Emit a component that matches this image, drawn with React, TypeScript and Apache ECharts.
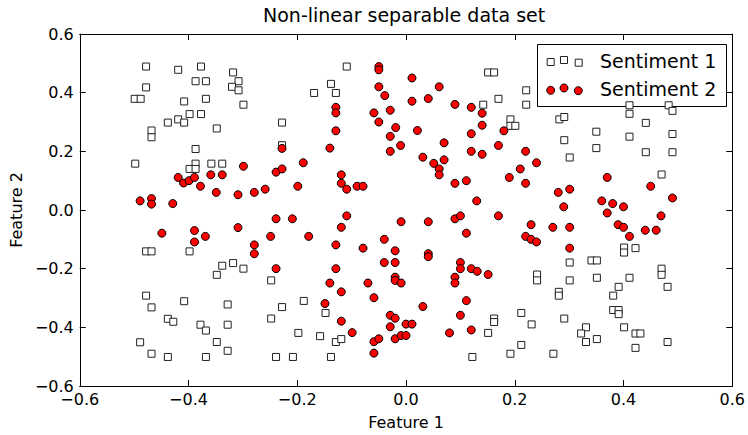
import React, { useEffect, useRef } from "react";
import * as echarts from "echarts";

const TITLE = "Non-linear separable data set";
const X_NAME = "Feature 1";
const Y_NAME = "Feature 2";
const SERIES_NAMES = ["Sentiment 1", "Sentiment 2"];
const AXIS_MIN = -0.6;
const AXIS_MAX = 0.6;
const AXIS_STEP = 0.2;

const sentiment1: number[][] = [
  [-0.478, 0.489], [-0.419, 0.478], [-0.377, 0.489], [-0.318, 0.469], [-0.308, 0.439], [-0.32, 0.42],
  [-0.308, 0.408], [-0.387, 0.439], [-0.368, 0.439], [-0.478, 0.418], [-0.499, 0.379], [-0.488, 0.379],
  [-0.408, 0.37], [-0.368, 0.379], [-0.299, 0.359], [-0.398, 0.327], [-0.377, 0.327], [-0.438, 0.298],
  [-0.419, 0.309], [-0.408, 0.298], [-0.468, 0.271], [-0.468, 0.248], [-0.348, 0.278], [-0.387, 0.208],
  [-0.498, 0.158], [-0.387, 0.158], [-0.398, 0.14], [-0.387, 0.14], [-0.358, 0.158], [-0.338, 0.158],
  [-0.478, -0.141], [-0.468, -0.141], [-0.398, -0.141], [-0.348, -0.221], [-0.338, -0.19], [-0.318, -0.181],
  [-0.299, -0.2], [-0.478, -0.292], [-0.468, -0.332], [-0.408, -0.311], [-0.328, -0.322], [-0.438, -0.371],
  [-0.428, -0.381], [-0.378, -0.391], [-0.368, -0.411], [-0.328, -0.391], [-0.489, -0.451], [-0.348, -0.45],
  [-0.328, -0.48], [-0.468, -0.49], [-0.438, -0.501], [-0.368, -0.501],
  [-0.109, 0.489], [-0.138, 0.43], [-0.169, 0.399], [-0.129, 0.399], [-0.228, 0.298], [-0.228, 0.221],
  [-0.248, -0.24], [-0.228, -0.331], [-0.248, -0.37], [-0.188, -0.31], [-0.148, -0.351], [-0.198, -0.419],
  [-0.158, -0.43], [-0.129, -0.45], [-0.119, -0.44], [-0.239, -0.501], [-0.208, -0.501], [-0.138, -0.501],
  [0.151, 0.469], [0.162, 0.469], [0.221, 0.408], [0.221, 0.359], [0.17, 0.379], [0.142, 0.359],
  [0.192, 0.309], [0.192, 0.287], [0.201, 0.287], [0.282, 0.309], [0.291, 0.317], [0.291, 0.238], [0.301, 0.179],
  [0.301, -0.179], [0.241, -0.22], [0.241, -0.24], [0.301, -0.24], [0.281, -0.279], [0.281, -0.292],
  [0.162, -0.37], [0.162, -0.382], [0.212, -0.351], [0.231, -0.39], [0.291, -0.37], [0.151, -0.419],
  [0.212, -0.46], [0.192, -0.49], [0.271, -0.49], [0.122, -0.501],
  [0.411, 0.357], [0.411, 0.328], [0.483, 0.357], [0.49, 0.338], [0.441, 0.297], [0.35, 0.267],
  [0.411, 0.25], [0.49, 0.259], [0.35, 0.211], [0.441, 0.197], [0.49, 0.197], [0.47, 0.121],
  [0.401, -0.128], [0.401, -0.145], [0.422, -0.13], [0.341, -0.172], [0.351, -0.172], [0.351, -0.231],
  [0.411, -0.231], [0.47, -0.2], [0.47, -0.221], [0.481, -0.262], [0.391, -0.262], [0.381, -0.292],
  [0.381, -0.341], [0.391, -0.341], [0.391, -0.355], [0.331, -0.4], [0.322, -0.421], [0.331, -0.45],
  [0.351, -0.44], [0.401, -0.4], [0.422, -0.421], [0.431, -0.421], [0.422, -0.47], [0.481, -0.45],
];

const sentiment2: number[][] = [
  [-0.299, 0.149], [-0.419, 0.111], [-0.409, 0.092], [-0.399, 0.1], [-0.389, 0.111], [-0.378, 0.081],
  [-0.359, 0.12], [-0.338, 0.12], [-0.349, 0.06], [-0.309, 0.052], [-0.489, 0.031], [-0.468, 0.039],
  [-0.468, 0.02], [-0.429, 0.022],
  [-0.449, -0.079], [-0.389, -0.07], [-0.369, -0.09], [-0.389, -0.109], [-0.309, -0.06],
  [-0.05, 0.489], [-0.05, 0.478], [-0.05, 0.42], [-0.039, 0.39], [-0.129, 0.35], [-0.129, 0.331],
  [-0.059, 0.331], [-0.029, 0.34], [-0.05, 0.3], [-0.019, 0.281], [-0.129, 0.27], [-0.029, 0.251],
  [-0.01, 0.22], [-0.029, 0.2], [-0.14, 0.211], [-0.228, 0.21], [-0.189, 0.161], [-0.239, 0.129],
  [-0.228, 0.14], [-0.119, 0.12], [-0.119, 0.091], [-0.109, 0.071], [-0.09, 0.081], [-0.079, 0.081],
  [-0.199, 0.081], [-0.259, 0.071], [-0.279, 0.06],
  [-0.239, -0.03], [-0.209, -0.03], [-0.109, -0.02], [-0.119, -0.059], [-0.009, -0.04], [-0.249, -0.09],
  [-0.179, -0.09], [-0.279, -0.119], [-0.279, -0.149], [-0.129, -0.119], [-0.079, -0.13], [-0.04, -0.1],
  [-0.02, -0.139], [-0.04, -0.179], [-0.02, -0.179], [-0.239, -0.2], [-0.129, -0.2], [-0.14, -0.249],
  [-0.119, -0.279], [-0.07, -0.249], [-0.02, -0.229], [-0.02, -0.24], [-0.009, -0.249], [-0.059, -0.299],
  [-0.149, -0.319], [-0.119, -0.379], [-0.099, -0.418], [-0.029, -0.359], [-0.02, -0.369], [-0.029, -0.398],
  [0.0, -0.389], [-0.059, -0.449], [-0.05, -0.439], [-0.059, -0.488], [-0.02, -0.439], [-0.009, -0.428],
  [0.0, -0.428],
  [0.011, 0.45], [0.011, 0.371], [0.061, 0.42], [0.041, 0.38], [0.09, 0.36], [0.12, 0.35], [0.14, 0.33],
  [0.14, 0.289], [0.021, 0.271], [0.12, 0.26], [0.18, 0.27], [0.07, 0.229], [0.17, 0.22], [0.031, 0.18],
  [0.051, 0.159], [0.07, 0.171], [0.061, 0.14], [0.061, 0.12], [0.12, 0.2], [0.14, 0.19], [0.22, 0.2],
  [0.21, 0.14], [0.24, 0.161], [0.19, 0.111], [0.22, 0.091], [0.09, 0.091], [0.111, 0.1], [0.13, 0.031],
  [0.28, 0.06], [0.301, 0.071], [0.29, 0.011],
  [0.041, -0.04], [0.09, -0.03], [0.1, -0.02], [0.17, -0.02], [0.111, -0.079], [0.23, -0.05],
  [0.27, -0.059], [0.301, -0.059], [0.22, -0.09], [0.23, -0.1], [0.24, -0.109], [0.301, -0.13],
  [0.041, -0.149], [0.041, -0.159], [0.1, -0.179], [0.1, -0.2], [0.12, -0.2], [0.131, -0.209],
  [0.151, -0.22], [0.09, -0.229], [0.09, -0.249], [0.111, -0.309], [0.031, -0.329], [0.1, -0.359],
  [0.011, -0.389], [0.08, -0.419], [0.12, -0.409],
  [0.37, 0.111], [0.45, 0.081], [0.49, 0.041], [0.36, 0.031], [0.38, 0.022], [0.4, 0.011],
  [0.37, -0.01], [0.469, -0.02], [0.39, -0.05], [0.4, -0.059], [0.411, -0.09], [0.44, -0.069], [0.46, -0.069],
];

const FONT = "DejaVu Sans";

function fmt(v: number): string {
  if (Math.abs(v) < 1e-9) return "0.0";
  return (v < 0 ? "\u2212" : "") + Math.abs(v).toFixed(1);
}

function axisBase(position: string, showLabel: boolean) {
  return {
    type: "value",
    min: AXIS_MIN,
    max: AXIS_MAX,
    interval: AXIS_STEP,
    position,
    axisLine: { show: true, onZero: false, lineStyle: { color: "#000", width: 1 } },
    axisTick: { show: true, inside: true, length: 6, lineStyle: { color: "#000", width: 1 } },
    axisLabel: {
      show: showLabel,
      formatter: fmt,
      fontFamily: FONT,
      fontSize: 16,
      color: "#000",
      margin: 6,
    },
    splitLine: { show: false },
  };
}

export default function App() {
  const ref = useRef<HTMLDivElement>(null);
  useEffect(() => {
    if (!ref.current) return;
    const chart = echarts.init(ref.current, undefined, { renderer: "svg" });
    const sqY = [62, 60, 62.7];
    const sqX = [550.7, 564, 578.7];
    const ciY = [90.3, 88, 90.7];
    const ciX = [550.7, 564, 578.3];
    const legendChildren: any[] = [
      {
        type: "rect",
        shape: { x: 537.5, y: 44.5, width: 189, height: 62 },
        style: { fill: "#fff", stroke: "#000", lineWidth: 1 },
      },
    ];
    sqX.forEach((x, i) => {
      legendChildren.push({
        type: "rect",
        shape: { x: x - 3.5, y: sqY[i] - 3.5, width: 7, height: 7 },
        style: { fill: "#fff", stroke: "#222", lineWidth: 1 },
      });
    });
    ciX.forEach((x, i) => {
      legendChildren.push({
        type: "circle",
        shape: { cx: x, cy: ciY[i], r: 4 },
        style: { fill: "#ff0000", stroke: "#000", lineWidth: 1 },
      });
    });
    SERIES_NAMES.forEach((n, i) => {
      legendChildren.push({
        type: "text",
        x: 600,
        y: i === 0 ? 61 : 88.5,
        style: {
          text: n,
          fontFamily: FONT,
          fontSize: 19,
          fill: "#000",
          verticalAlign: "middle",
          align: "left",
        },
      });
    });

    const xMain: any = axisBase("bottom", true);
    xMain.name = X_NAME;
    xMain.nameLocation = "middle";
    xMain.nameGap = 28;
    xMain.nameTextStyle = { fontFamily: FONT, fontSize: 16, color: "#000" };
    xMain.axisLabel.margin = 5;
    const yMain: any = axisBase("left", true);
    yMain.name = Y_NAME;
    yMain.nameLocation = "middle";
    yMain.nameGap = 50;
    yMain.nameTextStyle = { fontFamily: FONT, fontSize: 16, color: "#000" };

    chart.setOption({
      animation: false,
      backgroundColor: "#fff",
      title: {
        text: TITLE,
        left: 263,
        top: 5,
        padding: 0,
        textStyle: { fontFamily: FONT, fontSize: 19, fontWeight: "normal", color: "#000" },
      },
      grid: { left: 79, right: 12, top: 34, bottom: 46, containLabel: false },
      xAxis: [xMain, axisBase("top", false)],
      yAxis: [yMain, axisBase("right", false)],
      series: [
        {
          type: "scatter",
          name: SERIES_NAMES[0],
          data: sentiment1,
          symbol: "rect",
          symbolSize: 7,
          itemStyle: { color: "#fff", borderColor: "#222", borderWidth: 1, opacity: 1 },
          xAxisIndex: 0,
          yAxisIndex: 0,
        },
        {
          type: "scatter",
          name: SERIES_NAMES[1],
          data: sentiment2,
          symbol: "circle",
          symbolSize: 8,
          itemStyle: { color: "#ff0000", borderColor: "#000", borderWidth: 1, opacity: 1 },
          xAxisIndex: 0,
          yAxisIndex: 0,
        },
      ],
      graphic: [{ type: "group", z: 100, children: legendChildren }],
    });
    return () => chart.dispose();
  }, []);
  return (
    <div
      ref={ref}
      style={{ position: "fixed", left: 0, top: 0, width: 748, height: 435, background: "#fff" }}
    />
  );
}
